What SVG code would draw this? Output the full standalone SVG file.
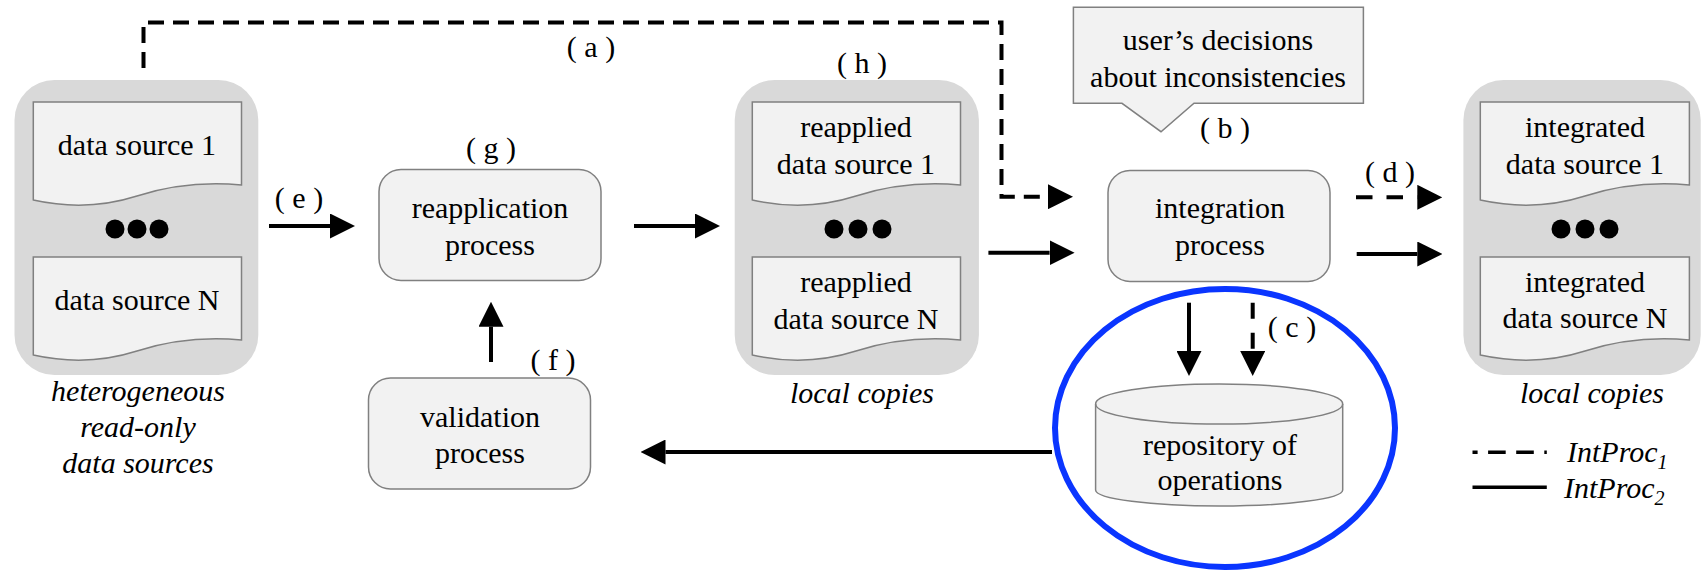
<svg xmlns="http://www.w3.org/2000/svg" width="1702" height="572" viewBox="0 0 1702 572" font-family="Liberation Serif, Times New Roman, Times, DejaVu Serif, serif">
<style>
text{font-family:'Liberation Serif','Times New Roman',Times,'DejaVu Serif',serif;font-size:30px;fill:#000;text-anchor:middle}
.it{font-style:italic}
.cont{fill:#d9d9d9}
.doc{fill:#f2f2f2;stroke:#808080;stroke-width:1.5}
.box{fill:#f2f2f2;stroke:#808080;stroke-width:1.5}
.ln{fill:none;stroke:#000;stroke-width:4}
.ar{marker-end:url(#ah)}
.da{stroke-dasharray:16 9}
.dot{fill:#000}
</style>
<defs>
<marker id="ah" markerUnits="userSpaceOnUse" viewBox="0 0 25 25" markerWidth="25" markerHeight="25" refX="0" refY="12.5" orient="auto">
<path d="M0,0 L25,12.5 L0,25 Z" fill="#000"/>
</marker>
</defs>

<g id="sources">
<rect class="cont" x="14.5" y="80" width="243.8" height="295" rx="40"/>
<path class="doc" d="M33.3,102 H241.5 V185 Q187,180 137,196 Q87,212 33.3,200 Z"/>
<text x="137" y="155">data source 1</text>
<circle class="dot" cx="115" cy="229" r="9.5"/><circle class="dot" cx="137" cy="229" r="9.5"/><circle class="dot" cx="159" cy="229" r="9.5"/>
<path class="doc" d="M33.3,257 H241.5 V340 Q187,335 137,351 Q87,367 33.3,355 Z"/>
<text x="137" y="310">data source N</text>
<text class="it" x="138"><tspan x="138" y="401">heterogeneous</tspan><tspan x="138" y="437">read-only</tspan><tspan x="138" y="473">data sources</tspan></text>
</g>

<g id="reapplication">
<text x="491" y="158">( g )</text>
<rect class="box" x="379" y="169.5" width="222" height="111" rx="22"/>
<text><tspan x="490" y="218">reapplication</tspan><tspan x="490" y="255">process</tspan></text>
</g>

<g id="validation">
<rect class="box" x="368.5" y="378" width="222" height="111" rx="22"/>
<text><tspan x="480" y="427">validation</tspan><tspan x="480" y="463">process</tspan></text>
</g>

<g id="reapplied">
<text x="862" y="73">( h )</text>
<rect class="cont" x="734.7" y="80" width="244.2" height="295" rx="40"/>
<path class="doc" d="M752.3,102 H960.5 V185 Q906,180 856,196 Q806,212 752.3,200 Z"/>
<text><tspan x="856" y="137">reapplied</tspan><tspan x="856" y="173.5">data source 1</tspan></text>
<circle class="dot" cx="834" cy="229" r="9.5"/><circle class="dot" cx="858" cy="229" r="9.5"/><circle class="dot" cx="882" cy="229" r="9.5"/>
<path class="doc" d="M752.3,257 H960.5 V340 Q906,335 856,351 Q806,367 752.3,355 Z"/>
<text><tspan x="856" y="292">reapplied</tspan><tspan x="856" y="328.5">data source N</tspan></text>
<text class="it" x="862" y="403">local copies</text>
</g>

<g id="decisions">
<path class="box" d="M1073.4,7.3 H1363.4 V103.3 H1194 L1161,131.7 L1122,103.3 H1073.4 Z"/>
<text><tspan x="1218" y="50">user’s decisions</tspan><tspan x="1218" y="87.3">about inconsistencies</tspan></text>
</g>

<g id="integration">
<text x="1225" y="138">( b )</text>
<rect class="box" x="1108" y="170.5" width="222" height="111" rx="22"/>
<text><tspan x="1220" y="218">integration</tspan><tspan x="1220" y="255">process</tspan></text>
</g>

<g id="repository">
<path class="box" d="M1095.6,404 A123.5,20 0 0 1 1342.7,404 V490 A123.5,16 0 0 1 1095.6,490 Z"/>
<path fill="none" stroke="#808080" stroke-width="1.5" d="M1095.6,404 A123.5,20 0 0 0 1342.7,404"/>
<text><tspan x="1220" y="455">repository of</tspan><tspan x="1220" y="490">operations</tspan></text>
<ellipse cx="1225" cy="428" rx="170" ry="139" fill="none" stroke="#0a35ff" stroke-width="6"/>
</g>

<g id="integrated">
<rect class="cont" x="1463.4" y="80" width="237.3" height="295" rx="40"/>
<path class="doc" d="M1480.3,102 H1689.4 V185 Q1635,180 1585,196 Q1535,212 1480.3,200 Z"/>
<text><tspan x="1585" y="137">integrated</tspan><tspan x="1585" y="173.5">data source 1</tspan></text>
<circle class="dot" cx="1561" cy="229" r="9.5"/><circle class="dot" cx="1585" cy="229" r="9.5"/><circle class="dot" cx="1609" cy="229" r="9.5"/>
<path class="doc" d="M1480.3,257 H1689.4 V340 Q1635,335 1585,351 Q1535,367 1480.3,355 Z"/>
<text><tspan x="1585" y="292">integrated</tspan><tspan x="1585" y="328">data source N</tspan></text>
<text class="it" x="1592" y="403">local copies</text>
</g>

<g id="legend">
<line x1="1472.5" y1="452.3" x2="1546.8" y2="452.3" stroke="#000" stroke-width="3.5" stroke-dasharray="17.6 10.5" stroke-dashoffset="12.5"/>
<line x1="1472.5" y1="487.3" x2="1546.8" y2="487.3" stroke="#000" stroke-width="3.5"/>
<text class="it" x="1567" y="461.7" style="text-anchor:start">IntProc<tspan font-size="20" dy="7">1</tspan></text>
<text class="it" x="1564" y="498.3" style="text-anchor:start">IntProc<tspan font-size="20" dy="7">2</tspan></text>
</g>

<g id="connectors">
<path class="ln ar da" d="M143.5,68 V22.5 H1001.5 V196.7 H1048"/>
<text x="591" y="57">( a )</text>
<line class="ln ar" x1="269" y1="226" x2="330" y2="226"/>
<text x="299" y="208">( e )</text>
<line class="ln ar" x1="634" y1="226" x2="695" y2="226"/>
<line class="ln ar" x1="988.4" y1="252.7" x2="1049.6" y2="252.7"/>
<line class="ln ar" x1="1356" y1="197.3" x2="1417.3" y2="197.3" style="stroke-dasharray:16.5 14"/>
<text x="1390" y="181.7">( d )</text>
<line class="ln ar" x1="1356.7" y1="254" x2="1417.3" y2="254"/>
<line class="ln ar" x1="1189" y1="302.7" x2="1189" y2="351"/>
<line class="ln ar" x1="1252.7" y1="302.7" x2="1252.7" y2="351" style="stroke-dasharray:16 14"/>
<text x="1292" y="337">( c )</text>
<line class="ln ar" x1="491" y1="362" x2="491" y2="326.7"/>
<text x="553" y="370">( f )</text>
<line class="ln ar" x1="1052" y1="452" x2="665.5" y2="452"/>
</g>
</svg>
